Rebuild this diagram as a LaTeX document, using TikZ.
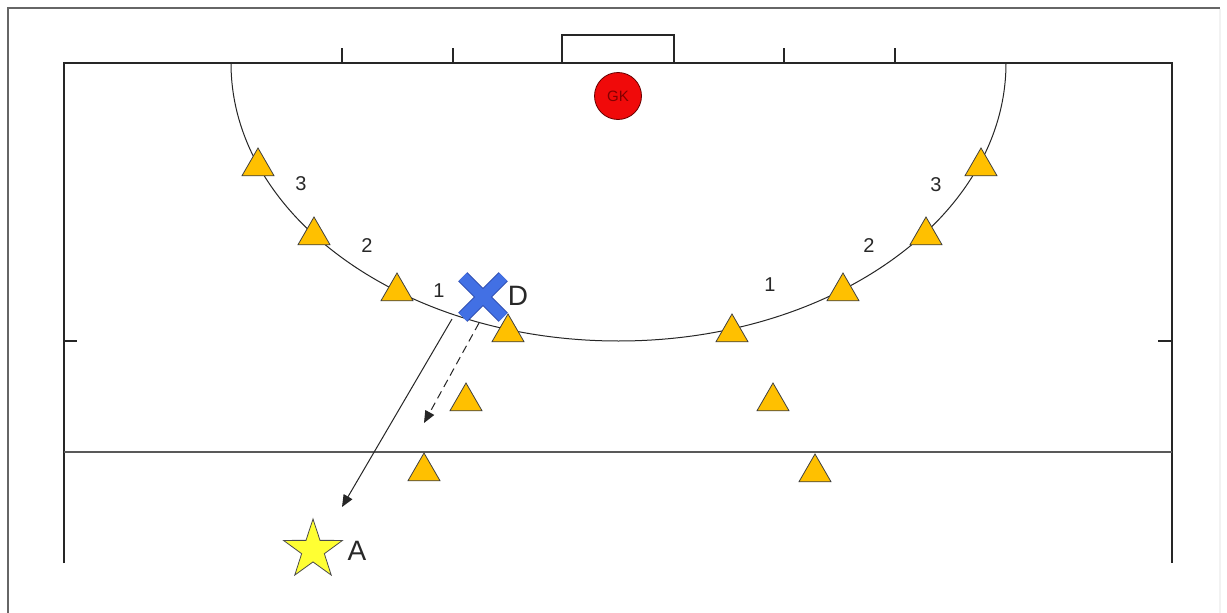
\documentclass[tikz,border=0pt]{standalone}
\usepackage{fontspec}
\setmainfont{Liberation Sans}
\usetikzlibrary{shapes.geometric,arrows.meta}
\definecolor{coneyellow}{RGB}{255,192,0}
\definecolor{staryellow}{RGB}{255,255,51}
\definecolor{crossblue}{RGB}{66,112,228}
\definecolor{crossedge}{RGB}{40,70,170}
\definecolor{gkred}{RGB}{240,10,10}
\definecolor{gktext}{RGB}{130,0,0}
\definecolor{textgray}{RGB}{40,40,40}
\tikzset{
  fieldline/.style={line width=1.3pt, black!85},
  cone/.style={regular polygon, regular polygon sides=3, draw=black!75, fill=coneyellow,
    minimum size=37pt, inner sep=0pt, line width=0.8pt},
  numlabel/.style={font=\fontsize{20}{20}\selectfont, text=textgray, inner sep=0pt},
  letterlabel/.style={font=\fontsize{28}{28}\selectfont, text=textgray, inner sep=0pt},
  crossedgeline/.style={line width=13pt, crossedge},
  crossfillline/.style={line width=11pt, crossblue},
  passarrow/.style={line width=1pt, black!85, -{Triangle[length=12pt,width=10pt]}},
  runarrow/.style={line width=1pt, black!85, dash pattern=on 8pt off 5pt, -{Triangle[length=12pt,width=10pt]}}
}
\begin{document}
\begin{tikzpicture}[x=1pt,y=-1pt]
\useasboundingbox (0,0) rectangle (1227,613);
\fill[white] (0,0) rectangle (1227,613);
% outer frame
\draw[line width=1.5pt, black!60] (8,613) -- (8,8) -- (1220,8);
\draw[line width=2pt, black!5] (1220,9) -- (1220,613);
% field
\draw[fieldline] (64,563) -- (64,63) -- (1172,63) -- (1172,563);
\draw[fieldline] (562,63) -- (562,35) -- (674,35) -- (674,63);
\draw[fieldline] (342,48) -- (342,63);
\draw[fieldline] (453,48) -- (453,63);
\draw[fieldline] (784,48) -- (784,63);
\draw[fieldline] (895,48) -- (895,63);
\draw[line width=1.5pt, black!65] (64,452) -- (1172,452);
\draw[fieldline] (64,341) -- (77,341);
\draw[fieldline] (1158,341) -- (1172,341);
\draw[line width=1pt, black!85] (231,63) arc[start angle=180, end angle=0, x radius=387.5, y radius=278];
% goalkeeper
\node[circle, fill=gkred, draw=black!60!red, line width=0.8pt, minimum size=47pt, inner sep=0pt,
  font=\fontsize{15}{15}\selectfont, text=gktext] (gk) at (618,96) {GK};
% cones
\node[cone] (cL1) at (258,166.5) {};
\node[cone] (cL2) at (314,235.5) {};
\node[cone] (cL3) at (397,291.5) {};
\node[cone] (cL4) at (508,332.5) {};
\node[cone] (cL5) at (466,401.5) {};
\node[cone] (cL6) at (424,471.5) {};
\node[cone] (cR1) at (981,166.5) {};
\node[cone] (cR2) at (926,235.5) {};
\node[cone] (cR3) at (843,291.5) {};
\node[cone] (cR4) at (732,332.5) {};
\node[cone] (cR5) at (773,401.5) {};
\node[cone] (cR6) at (815,472.5) {};
% numbers
\node[numlabel] (nL3) at (301,184) {3};
\node[numlabel] (nL2) at (367,246) {2};
\node[numlabel] (nL1) at (439,291) {1};
\node[numlabel] (nR1) at (770,285) {1};
\node[numlabel] (nR2) at (869,246) {2};
\node[numlabel] (nR3) at (936,185) {3};
% defender cross
\node[inner sep=0pt, minimum size=40pt] (X) at (483,297) {};
\draw[crossedgeline] (X.north west) -- (X.south east);
\draw[crossedgeline] (X.north east) -- (X.south west);
\draw[crossfillline] (X.north west) -- (X.south east);
\draw[crossfillline] (X.north east) -- (X.south west);
\node[letterlabel] (dlab) at (518,296) {D};
% attacker star
\node[star, star points=5, star point ratio=2.6, minimum size=62pt, inner sep=0pt,
  fill=staryellow, draw=black!70, line width=0.8pt] (A) at (313,550) {};
\node[letterlabel] (alab) at (357,551) {A};
% arrows
\coordinate (s1) at (452,319);
\coordinate (e1) at (342,507);
\coordinate (s2) at (479,323);
\coordinate (e2) at (424,423);
\draw[passarrow] (s1) -- (e1);
\draw[runarrow] (s2) -- (e2);
\end{tikzpicture}
\end{document}
